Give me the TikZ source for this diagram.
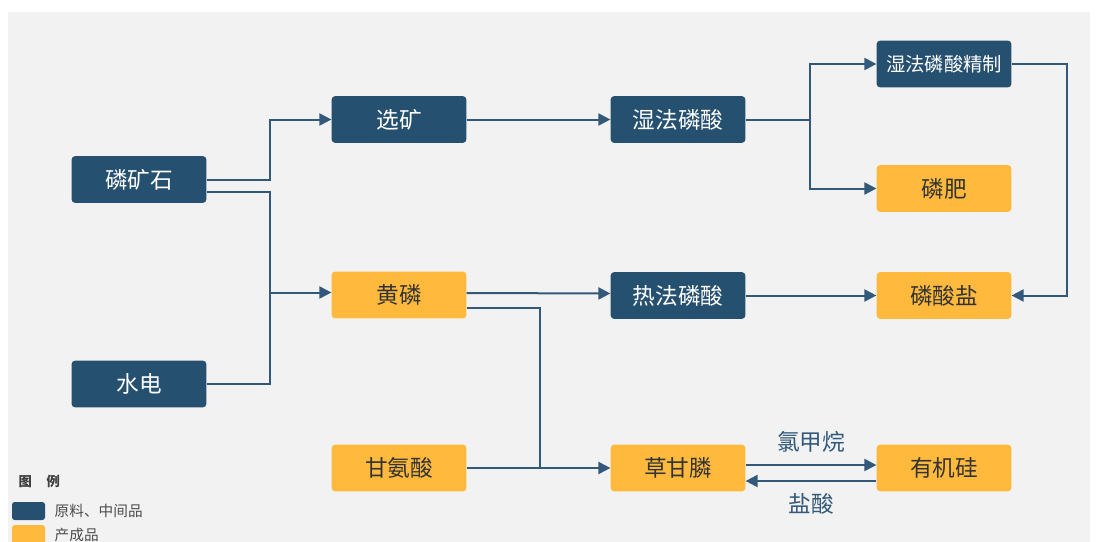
\documentclass[tikz,border=0pt]{standalone}
\usepackage{fontspec}
\newfontfamily\cjk{Noto Sans CJK SC}
\usetikzlibrary{arrows.meta}
\definecolor{darkbox}{HTML}{265070}
\definecolor{prodbox}{HTML}{FFBA3E}
\definecolor{linkcol}{HTML}{33597A}
\definecolor{panel}{HTML}{F2F2F2}
\tikzset{
  box/.style={rounded corners=2.5pt, minimum width=101pt, minimum height=35pt,
    inner sep=0pt, font=\cjk\fontsize{17}{19}\selectfont},
  raw/.style={box, fill=darkbox, text=white},
  prod/.style={box, fill=prodbox, text=black!80},
  line/.style={linkcol, line width=1.5pt},
  arr/.style={line, -{Triangle[length=9pt,width=9pt]}},
  lbl/.style={font=\cjk\fontsize{17}{19}\selectfont, text=linkcol},
}
\begin{document}
\begin{tikzpicture}[x=0.75pt, y=-0.75pt]
    \useasboundingbox (0,0) rectangle (1096,542);
    \fill[panel] (8,12) rectangle (1090,542);
    % nodes
    \node[raw]  (ore)    at (139,179.5) {磷矿石};
    \node[raw]  (hydro)  at (139,384)   {水电};
    \node[raw]  (sel)    at (399,119.5) {选矿};
    \node[prod] (yp)     at (399,295)   {黄磷};
    \node[prod] (gly)    at (399,468)   {甘氨酸};
    \node[raw]  (wet)    at (678,119.5) {湿法磷酸};
    \node[raw]  (therm)  at (678,295.5) {热法磷酸};
    \node[prod] (glyph)  at (678,468)   {草甘膦};
    \node[raw, font=\cjk\fontsize{14.5}{16}\selectfont] (refine) at (944,64) {湿法磷酸精制};
    \node[prod] (fert)   at (944,188.5) {磷肥};
    \node[prod] (salt)   at (944,295.5) {磷酸盐};
    \node[prod] (si)     at (944,468)   {有机硅};
    % junctions
    \coordinate (jp) at (270,292.5);
    \coordinate (jw) at (810,119.5);
    \coordinate (jg) at (540,469);
    % connectors
    \draw[arr] (ore.east) -- ++(63,0) |- (sel.west);
    \draw[line] ([yshift=-9.5pt]ore.east) -| (jp);
    \draw[line] (hydro.east) -| (jp);
    \draw[arr] (jp) -- (jp -| yp.west);
    \draw[arr] (sel) -- (wet);
    \draw[line] (wet.east) -- (jw);
    \draw[arr] (jw) |- (refine.west);
    \draw[arr] (jw) |- (fert.west);
    \draw[arr] ([yshift=1.5pt]yp.east) -- ([yshift=1.5pt]therm.west);
    \draw[arr] (therm) -- (salt);
    \draw[arr] (refine.east) -- ++(55,0) |- (salt.east);
    \draw[line] ([yshift=-10pt]yp.east) -| (jg);
    \draw[arr] (gly.east) -- (glyph.west);
    \draw[arr] ([yshift=2.25pt]glyph.east) -- ([yshift=2.25pt]si.west)
        node[lbl, midway, above=5pt] {氯甲烷};
    \draw[arr] ([yshift=-9.75pt]si.west) -- ([yshift=-9.75pt]glyph.east)
        node[lbl, midway, below=5pt] {盐酸};
    % legend
    \node[font=\cjk\bfseries\fontsize{10}{12}\selectfont, text=black!75, anchor=west] (leg) at (14,481) {图\hspace{1.1em}例};
    \fill[darkbox, rounded corners=2pt] (12,502) rectangle (45,520);
    \node[font=\cjk\fontsize{11}{13}\selectfont, text=black!70, anchor=west] (legraw) at (50,511) {原料、中间品};
    \fill[prodbox, rounded corners=2pt] (12,525) rectangle (45,548);
    \node[font=\cjk\fontsize{11}{13}\selectfont, text=black!70, anchor=west] (legprod) at (50,535) {产成品};
\end{tikzpicture}
\end{document}
